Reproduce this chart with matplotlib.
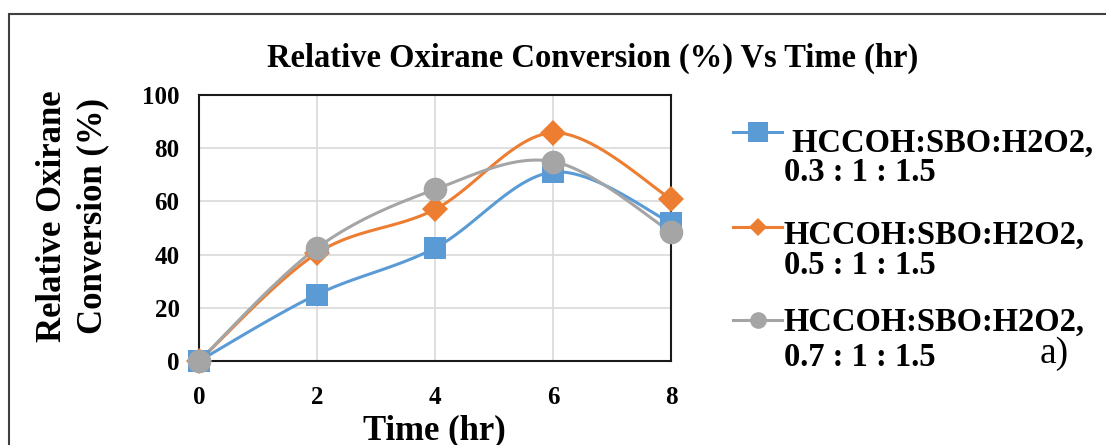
import numpy as np
import matplotlib
matplotlib.use("Agg")
import matplotlib.pyplot as plt
from matplotlib.lines import Line2D
from matplotlib.patches import Rectangle

plt.rcParams['font.family'] = ['Liberation Serif', 'DejaVu Serif']
plt.rcParams['font.weight'] = 'bold'

time_hr = [0, 2, 4, 6, 8]
conv_03 = [0, 25.0, 42.5, 71.0, 52.0]
conv_05 = [0, 40.5, 57.0, 85.8, 61.0]
conv_07 = [0, 42.5, 64.5, 75.0, 48.5]

labels = [("HCCOH:SBO:H2O2,", "0.3 : 1 : 1.5"),
          ("HCCOH:SBO:H2O2,", "0.5 : 1 : 1.5"),
          ("HCCOH:SBO:H2O2,", "0.7 : 1 : 1.5")]
colors = ["#5B9BD5", "#ED7D31", "#A5A5A5"]
markers = ["s", "D", "o"]
msizes = [16, 13.5, 17]


def smooth(x, y, n=30):
    # excel-like smoothed line: cubic bezier with catmull-rom control points
    x = np.asarray(x, float)
    y = np.asarray(y, float)
    px = np.concatenate([[x[0]], x, [x[-1]]])
    py = np.concatenate([[y[0]], y, [y[-1]]])
    xs, ys = [], []
    t = np.linspace(0, 1, n)
    for i in range(1, len(px) - 2):
        p0 = np.array([px[i], py[i]])
        p3 = np.array([px[i + 1], py[i + 1]])
        p1 = p0 + (np.array([px[i + 1], py[i + 1]]) - np.array([px[i - 1], py[i - 1]])) / 6
        p2 = p3 - (np.array([px[i + 2], py[i + 2]]) - np.array([px[i], py[i]])) / 6
        b = ((1 - t) ** 3)[:, None] * p0 + (3 * (1 - t) ** 2 * t)[:, None] * p1 \
            + (3 * (1 - t) * t ** 2)[:, None] * p2 + (t ** 3)[:, None] * p3
        xs.extend(b[:, 0])
        ys.extend(b[:, 1])
    return xs, ys


W, H = 1106, 445
fig = plt.figure(figsize=(W / 100, H / 100), dpi=100)
ax = fig.add_axes([199 / W, 1 - 361 / H, 472 / W, 266 / H])

for yv, c, m, ms in zip([conv_03, conv_05, conv_07], colors, markers, msizes):
    sx, sy = smooth(time_hr, yv)
    ax.plot(sx, sy, color=c, lw=2.2, clip_on=False, zorder=3)
    ax.plot(time_hr, yv, ls="none", marker=m, ms=ms, color=c, mew=0,
            clip_on=False, zorder=4)

ax.set_xlim(0, 8)
ax.set_ylim(0, 100)
ax.set_xticks([0, 2, 4, 6, 8])
ax.set_yticks([0, 20, 40, 60, 80, 100])
ax.grid(True, color="#d9d9d9", lw=1.2)
ax.set_axisbelow(True)
for s in ax.spines.values():
    s.set_color("#1a1a1a")
    s.set_linewidth(1.5)
ax.tick_params(length=0, labelsize=18, pad=14)
ax.tick_params(axis="x", pad=18)

fig.text(593 / W, 1 - 67 / H, "Relative Oxirane Conversion (%) Vs Time (hr)",
         ha="center", va="baseline", fontsize=23.5)
fig.text(73 / W, 1 - 216 / H, "Relative Oxirane\nConversion (%)", rotation=90,
         ha="center", va="center", fontsize=25, linespacing=1.3)
fig.text(434 / W, 1 - 439 / H, "Time (hr)", ha="center", va="baseline", fontsize=25)

# legend drawn by hand so the marker sits on the first line
leg_y = [132, 227, 320]
base1 = [152, 244, 331]
base2 = [181, 274, 366]
lms = [14, 9, 12]
for i in range(3):
    yy = 1 - leg_y[i] / H
    fig.add_artist(Line2D([733 / W, 782 / W], [yy, yy], color=colors[i], lw=2.2))
    fig.add_artist(Line2D([758 / W], [yy], marker=markers[i], ms=lms[i],
                          color=colors[i], mew=0))
    first = (" " if i == 0 else "") + labels[i][0]
    fig.text(784 / W, 1 - base1[i] / H, first, ha="left", va="baseline", fontsize=23.5)
    fig.text(784 / W, 1 - base2[i] / H, labels[i][1], ha="left", va="baseline", fontsize=23.5)

fig.text(1040 / W, 1 - 363 / H, "a)", ha="left", va="baseline", fontsize=27,
         fontweight="normal")

fig.add_artist(Rectangle((9 / W, -0.1), 1.2, 1.1 - 14 / H, transform=fig.transFigure,
                         fill=False, ec="#404040", lw=1.5))

fig.savefig("out.png", dpi=100)
